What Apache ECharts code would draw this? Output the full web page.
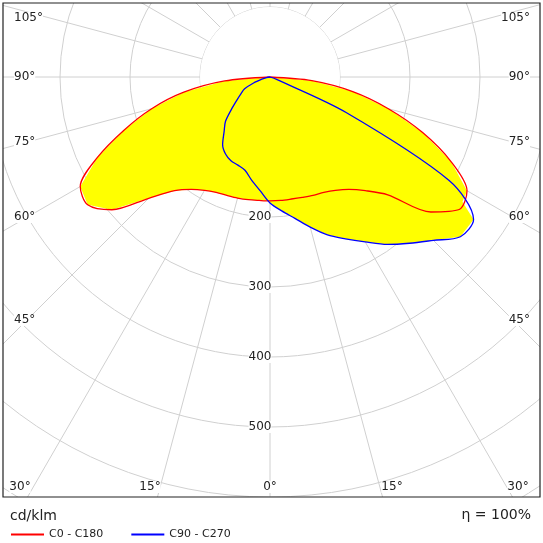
<!DOCTYPE html>
<html><head><meta charset="utf-8">
<script src="https://cdn.jsdelivr.net/npm/echarts@6/dist/echarts.min.js"></script>
<style>html,body{margin:0;padding:0;background:#fff}#c{width:543px;height:543px}</style>
</head><body><div id="c"></div>
<script>
const gammas = [0,5,10,15,20,25,30,35,40,45,50,55,60,65,70,75,80,85,90];
const c0   = [177,177,177,178,180,182,187,196,212,238,300,330,325,285,232,175,120,60,0];
const c180 = [177,177,178,179,180,182,187,196,212,245,295,318,313,272,222,175,125,65,0];
const c90  = [180,192,205,222,240,255,272,292,310,330,355,355,295,120,10,0,0,0,0];
const c270 = [180,163,150,138,134,132,127,118,102,90,72,58,48,40,25,12,5,0,0];
const radiusTicks = [200,300,400,500];
const angleLabelsLeft = ['105°','90°','75°','60°','45°','30°'];
const bottomLabels = ['15°','0°','15°'];

function build(right,left){
  const pts=[];
  for(let i=gammas.length-1;i>=0;i--) pts.push([left[i],360-gammas[i]]);
  for(let i=0;i<gammas.length;i++) pts.push([right[i],gammas[i]]);
  return pts;
}
const red = build(c0,c180), blue = build(c90,c270);
const F='DejaVu Sans';
const chart = echarts.init(document.getElementById('c'));
const leftY=[18,77,142,217,320,487];
const g=[];
// masks outside frame
g.push({type:'rect',shape:{x:0,y:0,width:543,height:3},style:{fill:'#fff'},z:100});
g.push({type:'rect',shape:{x:0,y:497,width:543,height:46},style:{fill:'#fff'},z:100});
g.push({type:'rect',shape:{x:0,y:0,width:3,height:543},style:{fill:'#fff'},z:100});
g.push({type:'rect',shape:{x:540,y:0,width:3,height:543},style:{fill:'#fff'},z:100});
g.push({type:'rect',shape:{x:3,y:3,width:537,height:494},style:{fill:null,stroke:'#222',lineWidth:1.2},z:101});
g.push({type:'circle',shape:{cx:270,cy:77,r:70},style:{fill:'#fff'},z:1});
angleLabelsLeft.forEach((t,i)=>{
  g.push({type:'text',x:i==5?20:14,y:leftY[i],style:{text:t,font:'12px '+F,fill:'#222',align:i==5?'center':'left',verticalAlign:'middle',backgroundColor:'#fff'},z:102});
  g.push({type:'text',x:i==5?518:530,y:leftY[i],style:{text:t,font:'12px '+F,fill:'#222',align:i==5?'center':'right',verticalAlign:'middle',backgroundColor:'#fff'},z:102});
});
[150,270,392].forEach((x,i)=>g.push({type:'text',x:x,y:487,style:{text:bottomLabels[i],font:'12px '+F,fill:'#222',align:'center',verticalAlign:'middle',backgroundColor:'#fff'},z:102}));
g.push({type:'text',x:10,y:516,style:{text:'cd/klm',font:'14px '+F,fill:'#222',verticalAlign:'middle'},z:102});
g.push({type:'text',x:531,y:515,style:{text:'η = 100%',font:'14px '+F,fill:'#222',align:'right',verticalAlign:'middle'},z:102});

chart.setOption({
  animation:false,
  polar:{center:[270,77],radius:490},
  angleAxis:{type:'value',min:0,max:360,interval:15,startAngle:270,clockwise:false,
    axisLine:{show:false},axisTick:{show:false},axisLabel:{show:false},
    splitLine:{lineStyle:{color:'#d0d0d0',width:1}},z:0},
  radiusAxis:{type:'value',min:0,max:700,interval:100,
    axisLine:{show:false},axisTick:{show:false},
    axisLabel:{margin:-10,align:'center',verticalAlign:'middle',fontFamily:F,fontSize:12,color:'#222',backgroundColor:'#fff',
      formatter:v=>radiusTicks.includes(v)?String(v):''},
    splitLine:{lineStyle:{color:'#d0d0d0',width:1}},z:0},
  legend:{left:6,top:524,itemWidth:33,itemHeight:2,itemGap:28,icon:'rect',
    textStyle:{fontFamily:F,fontSize:11,color:'#222'},data:['C0 - C180','C90 - C270'],z:103},
  graphic:g,
  series:[
    {type:'line',coordinateSystem:'polar',data:red,showSymbol:false,lineStyle:{width:0},areaStyle:{color:'#ffff00',opacity:1},z:2,silent:true},
    {type:'line',coordinateSystem:'polar',data:blue,showSymbol:false,lineStyle:{width:0},areaStyle:{color:'#ffff00',opacity:1},z:2,silent:true},
    {name:'C0 - C180',type:'line',coordinateSystem:'polar',data:red,showSymbol:false,smooth:0.3,lineStyle:{color:'#ff0000',width:1.3},itemStyle:{color:'#ff0000'},z:3},
    {name:'C90 - C270',type:'line',coordinateSystem:'polar',data:blue,showSymbol:false,smooth:0.3,lineStyle:{color:'#0000ff',width:1.3},itemStyle:{color:'#0000ff'},z:4}
  ]
});
</script></body></html>
